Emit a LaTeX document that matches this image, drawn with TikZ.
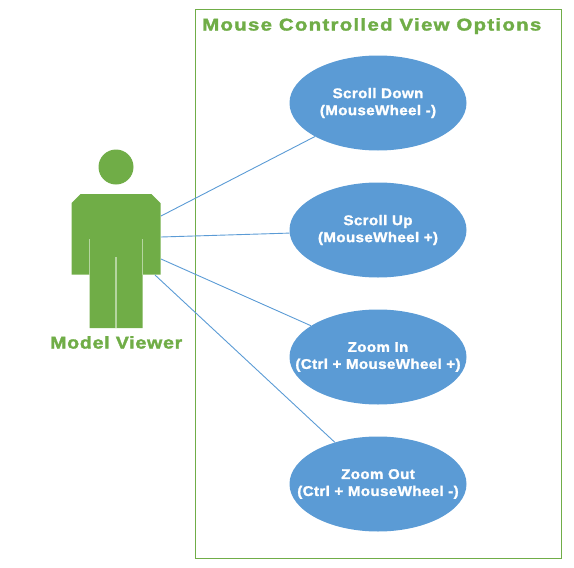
\documentclass[tikz,border=0pt]{standalone}
\usepackage{fontspec}
\setmainfont{Liberation Sans}
\newfontfamily\casefont{Liberation Sans}[BoldFeatures={FakeStretch=1.08,LetterSpace=2.7,FakeBold=1.6}]
\newfontfamily\titlefont{Liberation Sans}[BoldFeatures={FakeStretch=1.2,LetterSpace=7.6,FakeBold=2}]
\newfontfamily\viewerfont{Liberation Sans}[BoldFeatures={FakeStretch=1.15,LetterSpace=4.4,FakeBold=2}]
\usetikzlibrary{shapes.geometric}
\definecolor{viewgreen}{HTML}{70AD47}
\definecolor{viewblue}{HTML}{5B9BD5}
\definecolor{seamgreen}{HTML}{B5D5A0}
\tikzset{
    usecase/.style={ellipse, fill=viewblue, draw=none, inner sep=0pt, minimum width=177pt, minimum height=95pt},
    casetext/.style={align=center, text=white, inner sep=0pt, font=\casefont\bfseries\fontsize{14}{17}\selectfont},
    titletext/.style={text=viewgreen, inner sep=0pt, font=\titlefont\bfseries\fontsize{17}{20}\selectfont},
    wire/.style={draw=viewblue, line width=0.9pt},
    seam/.style={draw=seamgreen, line width=1.3pt}
}
\begin{document}
\begin{tikzpicture}[x=1pt, y=-1pt]
    \useasboundingbox (0,0) rectangle (574,568);

    \draw[viewgreen, line width=1pt] (195.5,9.5) rectangle (561.5,558);
    \node[titletext, anchor=base west] (viewtitle) at (202,30.5) {Mouse Controlled View Options};

    % Viewer figure
    \fill[viewgreen] (116,167) circle (17.5);
    \fill[viewgreen] (80.5,194) -- (151.5,194) -- (160.5,203) -- (160.5,274.5) -- (142.5,274.5)
        -- (142.5,328) -- (89.5,328) -- (89.5,274.5) -- (71.5,274.5) -- (71.5,203) -- cycle;
    \draw[seam] (89.5,239) -- (89.5,274.5);
    \draw[seam] (142.5,239) -- (142.5,274.5);
    \draw[seam] (116,257) -- (116,328);
    \node[titletext, anchor=base west, font=\viewerfont\bfseries\fontsize{17}{20}\selectfont] (viewerlabel) at (50,348.5) {Model Viewer};

    \coordinate (viewerA) at (161,216);
    \coordinate (viewerB) at (161,237);
    \coordinate (viewerC) at (161,259);
    \coordinate (viewerD) at (155,275);

    \foreach \y/\name/\label in {103/scrolldown/{Scroll Down\\(MouseWheel -)},
        230/scrollup/{Scroll Up\\(MouseWheel +)},
        357/zoomin/{Zoom In\\(Ctrl + MouseWheel +)},
        484/zoomout/{Zoom Out\\(Ctrl + MouseWheel -)}} {
        \node[usecase] (\name) at (378,\y) {};
        \node[casetext] (\name text) at (378,\y) {\label};
    }

    \draw[wire] (viewerA) -- (scrolldown.208);
    \draw[wire] (viewerB) -- (scrollup.182);
    \draw[wire] (viewerC) -- (zoomin.155.5);
    \draw[wire] (viewerD) -- (zoomout.136.3);
\end{tikzpicture}
\end{document}
